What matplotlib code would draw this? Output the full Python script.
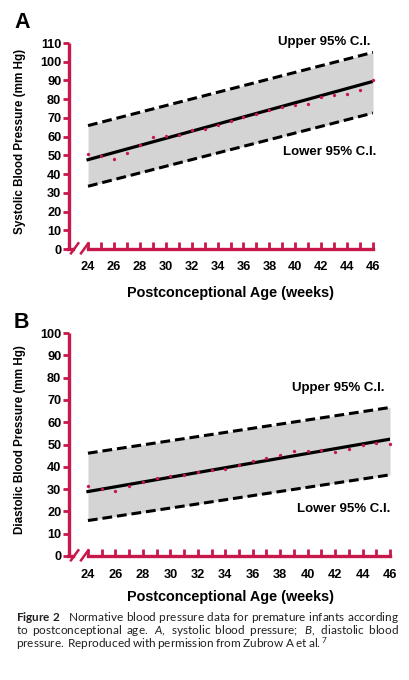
import matplotlib
matplotlib.use("Agg")
import matplotlib.pyplot as plt
from matplotlib.lines import Line2D
import numpy as np

W, H = 409, 680
RED = "#C8174A"
SHADE = "#d4d4d4"

weeks = list(range(24, 47))

# panel A: systolic
sys_mean = [50.7, 49.5, 48.2, 51.3, 55.4, 59.8, 60.2, 61.1, 63.4, 64.1, 66.2, 68.2,
            70.3, 71.9, 74.2, 76.0, 77.1, 77.4, 81.3, 82.2, 82.8, 85.1, 90.1]
sys_fit = [47.7, 89.5]
sys_upper = [65.9, 105.0]
sys_lower = [33.5, 72.6]

# panel B: diastolic
dia_mean = [31.6, 30.2, 29.3, 31.4, 33.2, 34.9, 35.8, 36.5, 37.7, 38.5, 39.1, 40.7,
            42.5, 43.9, 45.2, 47.2, 47.0, 47.5, 46.7, 47.8, 49.6, 50.7, 50.3]
dia_fit = [28.9, 52.4]
dia_upper = [46.1, 66.6]
dia_lower = [15.9, 36.4]

fit_x = [24, 46]

# caption words: (word, style); widths are justified below
cap_line1 = [("Figure 2", "bf"), ("Normative", "rm"), ("blood", "rm"), ("pressure", "rm"),
             ("data", "rm"), ("for", "rm"), ("premature", "rm"), ("infants", "rm"),
             ("according", "rm")]
cap_line2 = [("to", "rm"), ("postconceptional", "rm"), ("age.", "rm"), ("A,", "it"),
             ("systolic", "rm"), ("blood", "rm"), ("pressure;", "rm"), ("B,", "it"),
             ("diastolic", "rm"), ("blood", "rm")]
cap_line3 = [("pressure.", "rm"), ("Reproduced", "rm"), ("with", "rm"), ("permission", "rm"),
             ("from", "rm"), ("Zubrow", "rm"), ("A", "rm"), ("et", "rm"), ("al.", "rm")]

plt.rcParams["font.family"] = ["Liberation Sans", "DejaVu Sans"]
plt.rcParams["mathtext.fontset"] = "custom"
plt.rcParams["mathtext.rm"] = "Lato"
plt.rcParams["mathtext.it"] = "Lato:italic"
plt.rcParams["mathtext.bf"] = "Lato:bold"
fig = plt.figure(figsize=(W / 100, H / 100), dpi=100)


def fx(px):
    return px / W


def fy(py):
    return 1 - py / H


def panel(left_px, right_px, top_px, bot_px, xleft, ymax, mean, fit, up, lo,
          ylabel, letter, letter_y, up_y, lo_y, up_x, xlab_y):
    ax = fig.add_axes([fx(left_px), fy(bot_px), (right_px - left_px) / W, (bot_px - top_px) / H])
    ax.set_xlim(xleft, 46)
    ax.set_ylim(0, ymax)
    ax.fill_between(fit_x, lo, up, color=SHADE, lw=0, zorder=1)
    ax.plot(fit_x, up, color="black", lw=2.2, dashes=(3.2, 1.6), zorder=2)
    ax.plot(fit_x, lo, color="black", lw=2.2, dashes=(3.2, 1.6), zorder=2)
    ax.plot(fit_x, fit, color="black", lw=2.3, zorder=3)
    ax.plot(weeks, mean, "o", color=RED, ms=2.4, mec="none", zorder=4, clip_on=False)

    for s in ("top", "right"):
        ax.spines[s].set_visible(False)
    ax.spines["left"].set_color(RED)
    ax.spines["left"].set_linewidth(2.4)
    ax.spines["bottom"].set_color(RED)
    ax.spines["bottom"].set_linewidth(2.4)
    ax.spines["bottom"].set_bounds(24, 46)
    ax.spines["left"].set_capstyle("butt")

    ax.set_yticks(np.arange(0, ymax + 1, 10))
    ax.tick_params(axis="y", direction="out", length=4, width=2, color=RED, pad=1.5,
                   labelsize=9.2)
    ax.set_xticks(range(24, 47, 2))
    ax.set_xticks(range(25, 46, 2), minor=True)
    ax.tick_params(axis="x", which="both", direction="in", length=5, width=2, color=RED,
                   pad=9, labelsize=9.2)
    for t in ax.get_xticklabels() + ax.get_yticklabels():
        t.set_fontweight("bold")

    # broken x axis
    ay = bot_px
    fig.add_artist(Line2D([fx(left_px - 1), fx(73)], [fy(ay), fy(ay)], color=RED, lw=2.4,
                          transform=fig.transFigure))
    for x0 in (71, 81):
        fig.add_artist(Line2D([fx(x0), fx(x0 + 7.3)], [fy(ay + 4.3), fy(ay - 5.7)], color=RED,
                              lw=1.8, transform=fig.transFigure))

    fig.text(fx(20), fy(top_px + (bot_px - top_px) * 0.48), ylabel, rotation=90,
             ha="center", va="center", fontsize=8.4, fontweight="bold")
    fig.text(fx(230), fy(xlab_y), "Postconceptional Age (weeks)", ha="center",
             va="center", fontsize=10.4, fontweight="bold")
    fig.text(fx(14), fy(letter_y), letter, ha="left", va="baseline", fontsize=15.5,
             fontweight="bold")
    fig.text(fx(up_x), fy(up_y), "Upper 95% C.I.", ha="left", va="center", fontsize=9.5,
             fontweight="bold")
    fig.text(fx(up_x + 5), fy(lo_y), "Lower 95% C.I.", ha="left", va="center",
             fontsize=9.5, fontweight="bold")
    return ax


panel(69, 373, 43, 249, 22.53, 110, sys_mean, sys_fit, sys_upper, sys_lower,
      "Systolic Blood Pressure (mm Hg)", "A", 28, 42, 152, 278, 293)
panel(69, 390, 333, 556, 22.62, 100, dia_mean, dia_fit, dia_upper, dia_lower,
      "Diastolic Blood Pressure (mm Hg)", "B", 328, 388, 509, 292, 597)

# caption: one multi-line mathtext block, each line stretched with \hspace
CAP_SIZE = 8.5
CAP_COLOR = "#231f20"
CAP_L = 16
renderer = fig.canvas.get_renderer()


def cap_str(words, g, first_gap=1.0, tail=""):
    cmd = {"rm": r"\mathrm", "bf": r"\mathbf", "it": r"\mathit"}
    out = ""
    for i, (w, st) in enumerate(words):
        if i:
            out += r"\hspace{%.4f}" % (g * (first_gap if i == 1 else 1.0))
        out += cmd[st] + "{" + w.replace(" ", r"\ ") + "}"
    return "$" + out + tail + "$"


def cap_width(s):
    t = fig.text(0, 0, s, fontsize=CAP_SIZE)
    w = t.get_window_extent(renderer).width
    t.remove()
    return w


def justify(words, target, first_gap=1.0, tail=""):
    w0 = cap_width(cap_str(words, 0.0, first_gap, tail))
    w1 = cap_width(cap_str(words, 1.0, first_gap, tail))
    g = (target - w0) / (w1 - w0)
    return cap_str(words, g, first_gap, tail)


lines = [justify(cap_line1, 399 - CAP_L, first_gap=2.6),
         justify(cap_line2, 399 - CAP_L),
         justify(cap_line3, 328 - CAP_L, tail=r"^{\mathrm{7}}")]
fig.text(fx(CAP_L), fy(610), "\n".join(lines), fontsize=CAP_SIZE, color=CAP_COLOR,
         ha="left", va="top", linespacing=0.82)

fig.savefig("out.png", dpi=100)
